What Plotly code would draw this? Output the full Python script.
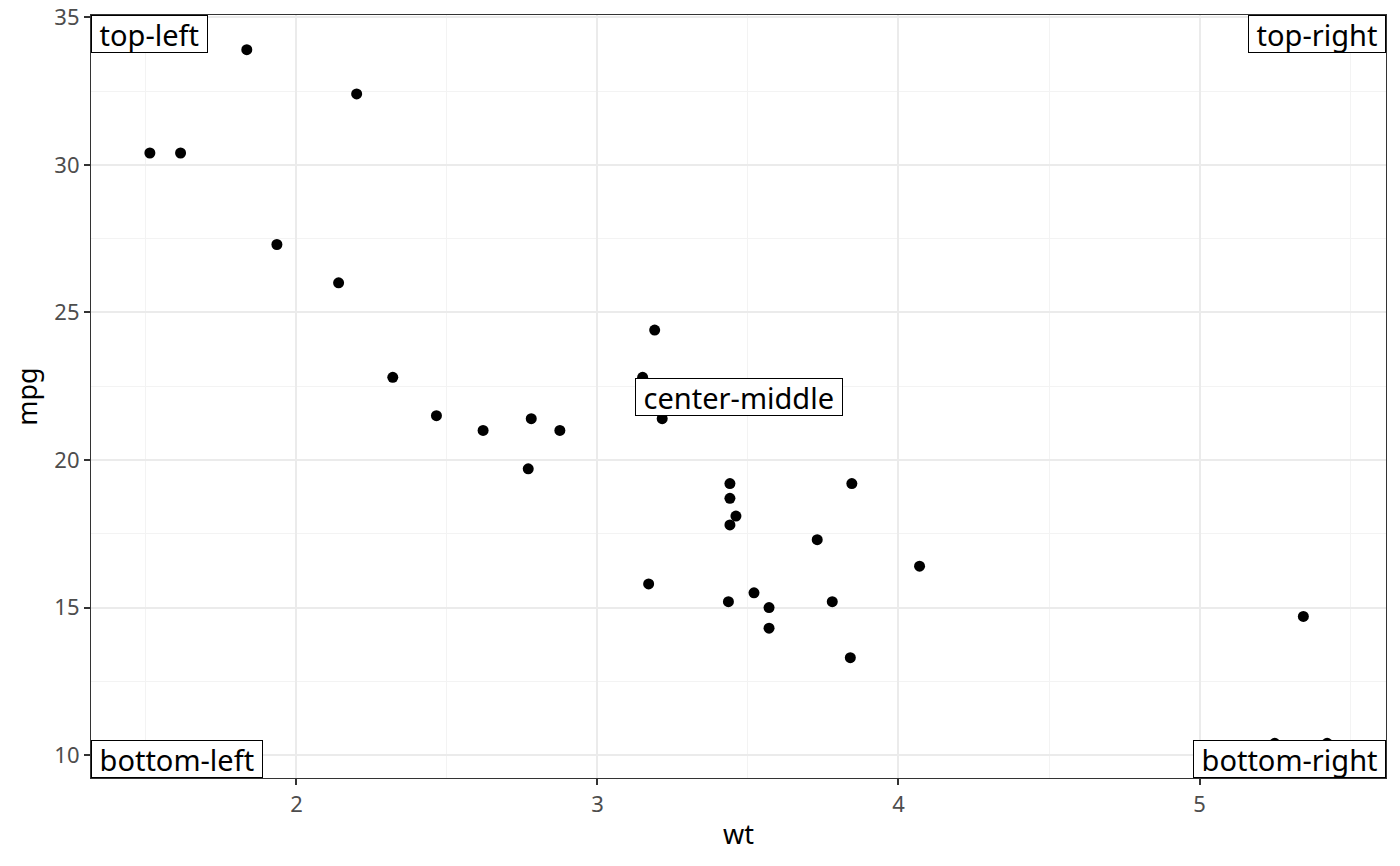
import plotly.graph_objects as go

# mtcars: weight (1000 lbs) and miles per gallon
wt = [2.620, 2.875, 2.320, 3.215, 3.440, 3.460, 3.570, 3.190, 3.150, 3.440,
      3.440, 4.070, 3.730, 3.780, 5.250, 5.424, 5.345, 2.200, 1.615, 1.835,
      2.465, 3.520, 3.435, 3.840, 3.845, 1.935, 2.140, 1.513, 3.170, 2.770,
      3.570, 2.780]
mpg = [21.0, 21.0, 22.8, 21.4, 18.7, 18.1, 14.3, 24.4, 22.8, 19.2,
       17.8, 16.4, 17.3, 15.2, 10.4, 10.4, 14.7, 32.4, 30.4, 33.9,
       21.5, 15.5, 15.2, 13.3, 19.2, 27.3, 26.0, 30.4, 15.8, 19.7,
       15.0, 21.4]

x_ticks = [2, 3, 4, 5]
y_ticks = [10, 15, 20, 25, 30, 35]

# label text and its place in the panel (npc)
label_text = ['top-left', 'top-right', 'bottom-left', 'bottom-right', 'center-middle']
label_x = [0, 1, 0, 1, 0.5]
label_y = [1, 1, 0, 0, 0.5]

font = 'Noto Sans'

x_pad = (max(wt) - min(wt)) * 0.05
y_pad = (max(mpg) - min(mpg)) * 0.05

fig = go.Figure(go.Scatter(x=wt, y=mpg, mode='markers',
                           marker=dict(color='black', size=11),
                           showlegend=False, hoverinfo='x+y'))

annotations = []
for txt, lx, ly in zip(label_text, label_x, label_y):
    annotations.append(dict(xref='paper', yref='paper', x=lx, y=ly,
                            text='\u00a0' + txt + '\u00a0',
                            xanchor={0: 'left', 1: 'right'}.get(lx, 'center'),
                            yanchor={0: 'bottom', 1: 'top'}.get(ly, 'middle'),
                            showarrow=False, bgcolor='white', bordercolor='black',
                            borderwidth=1, borderpad=0, height=36,
                            font=dict(family=font, size=29, color='black')))

axis_common = dict(showgrid=True, gridcolor='#EBEBEB', gridwidth=2,
                   zeroline=False, showline=True, linecolor='#333333', linewidth=1.2, mirror=True,
                   ticks='outside', ticklen=6, tickwidth=2, tickcolor='#333333',
                   ticklabeloverflow='allow', automargin=False,
                   tickfont=dict(family=font, size=22, color='#4D4D4D'),
                   title_font=dict(family=font, size=27, color='black'))

# page body has an 8px margin, so the figure is sized to fit the window
fig.update_layout(
    width=1384, height=850,
    margin=dict(l=83, r=6, t=7, b=80),
    plot_bgcolor='white', paper_bgcolor='white',
    annotations=annotations,
    xaxis=dict(axis_common, title=dict(text='wt', standoff=8),
               range=[min(wt) - x_pad, max(wt) + x_pad], tickvals=x_ticks,
               minor=dict(tick0=1.5, dtick=1, showgrid=True, gridcolor='#F3F3F3', gridwidth=1)),
    yaxis=dict(axis_common, title=dict(text='mpg', standoff=8),
               range=[min(mpg) - y_pad, max(mpg) + y_pad], tickvals=y_ticks,
               minor=dict(tick0=12.5, dtick=5, showgrid=True, gridcolor='#F3F3F3', gridwidth=1)),
)

fig.write_html('out.html')
